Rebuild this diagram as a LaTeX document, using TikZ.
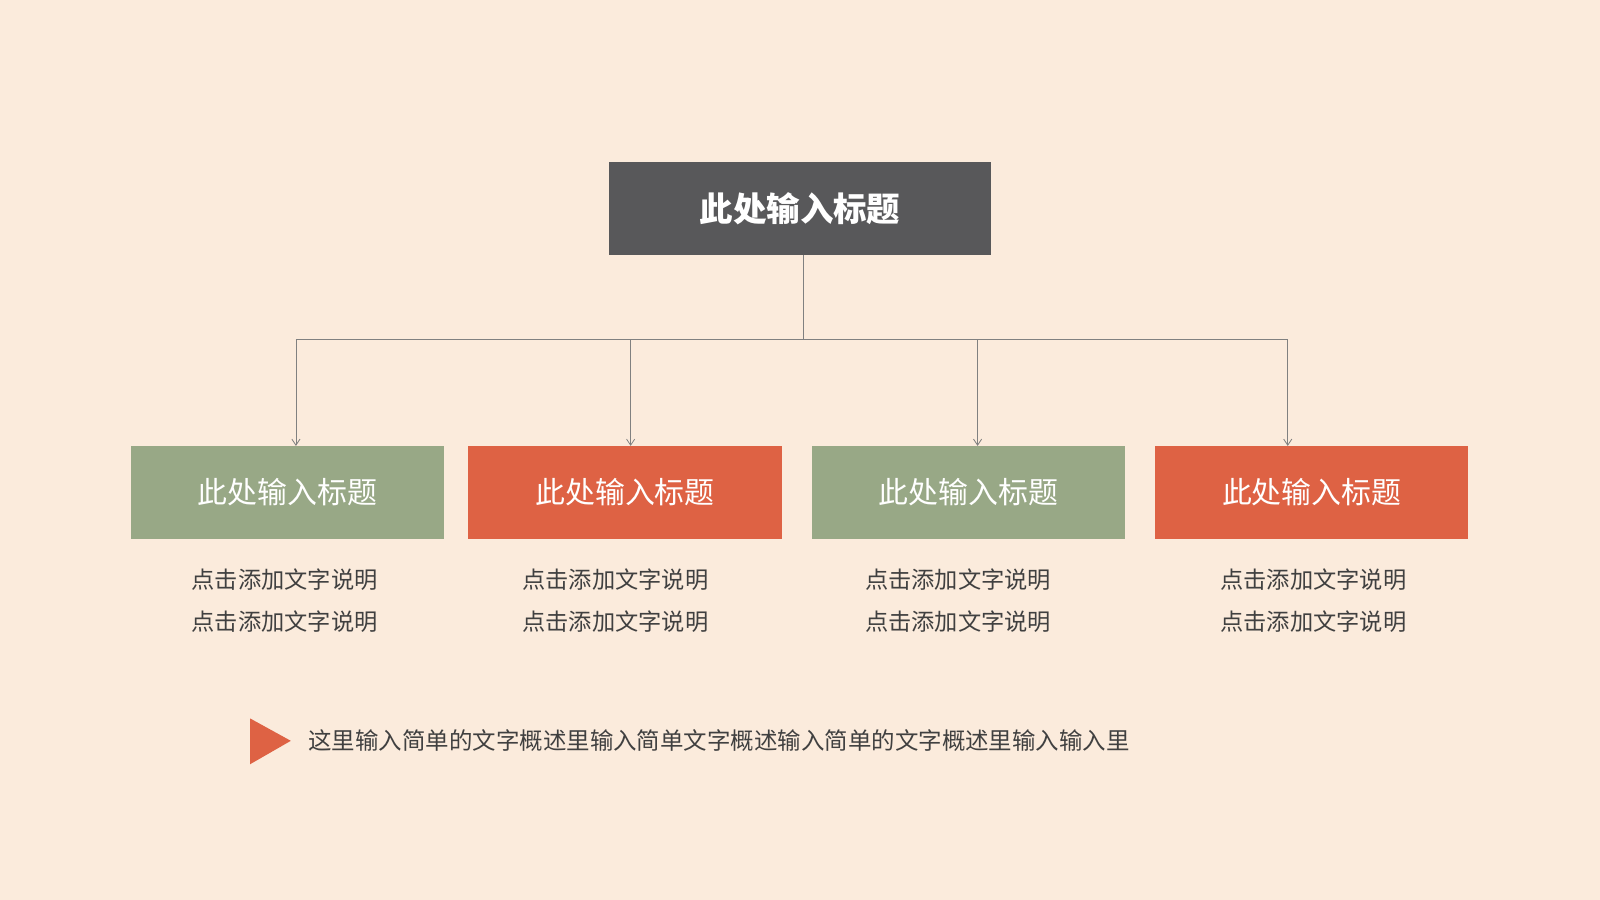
\documentclass[tikz,border=0pt]{standalone}
\usepackage{fontspec}
\newfontfamily\cjk{Noto Sans CJK SC}
\usetikzlibrary{arrows.meta}
\definecolor{bg}{HTML}{FBEBDC}
\definecolor{dark}{HTML}{58585A}
\definecolor{grn}{HTML}{98A886}
\definecolor{rd}{HTML}{DE6244}
\definecolor{txt}{HTML}{404040}
\definecolor{ln}{HTML}{808080}
\begin{document}
\begin{tikzpicture}[x=1pt,y=-1pt,
  sub/.style={minimum width=307pt,minimum height=91pt,inner sep=0pt,text=white,font=\cjk\fontsize{29.3}{33}\selectfont},
  desc/.style={text=txt,font=\cjk\fontsize{22.8}{27}\selectfont,align=center},
  conn/.style={draw=ln,line width=0.8pt,-{Straight Barb[length=6pt,width=8pt]}}]
\fill[bg] (0,0) rectangle (1568,882);
\useasboundingbox (0,0) rectangle (1568,882);
\node[fill=dark,minimum width=374pt,minimum height=91pt,inner sep=0pt,text=white,font=\cjk\bfseries\fontsize{32.8}{36}\selectfont] (top) at (784,204.5) {此处输入标题};
\node[sub,fill=grn] (b1) at (281.5,482.5) {此处输入标题};
\node[sub,fill=rd] (b2) at (612.5,482.5) {此处输入标题};
\node[sub,fill=grn] (b3) at (949,482.5) {此处输入标题};
\node[sub,fill=rd] (b4) at (1285.5,482.5) {此处输入标题};
\coordinate (j) at (787,333);
\draw[draw=ln,line width=0.8pt] (787,250) -- (j);
\draw[draw=ln,line width=0.8pt] (290,333) -- (1262,333);
\draw[conn] (290,333) -- (290,437);
\draw[conn] (618,333) -- (618,437);
\draw[conn] (958,333) -- (958,437);
\draw[conn] (1262,333) -- (1262,437);
\foreach \x/\n in {279/d1,603/d2,939/d3,1287/d4}{
  \node[desc] (\n a) at (\x,568) {点击添加文字说明};
  \node[desc] (\n b) at (\x,609) {点击添加文字说明};
}
\fill[rd] (245,704) -- (285,726) -- (245,749) -- cycle;
\node[desc,anchor=west,inner sep=0pt,font=\cjk\fontsize{23}{27}\selectfont] (note) at (302,726) {这里输入简单的文字概述里输入简单文字概述输入简单的文字概述里输入输入里};
\end{tikzpicture}
\end{document}
